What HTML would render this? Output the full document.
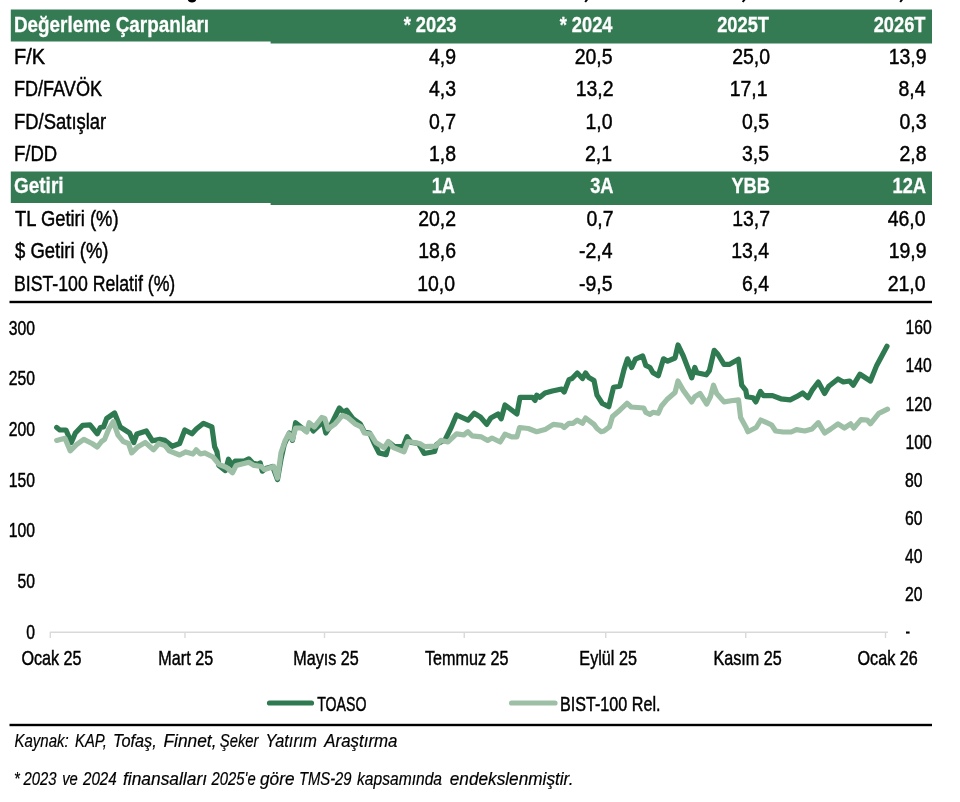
<!DOCTYPE html>
<html lang="tr"><head><meta charset="utf-8"><title>Değerleme Çarpanları</title>
<style>
html,body{margin:0;padding:0;background:#fff;}
body{width:960px;height:802px;overflow:hidden;}
svg{display:block;font-family:"Liberation Sans",sans-serif;will-change:transform;}
text{white-space:pre;}
</style></head><body>
<svg width="960" height="802" viewBox="0 0 960 802">
<rect width="960" height="802" fill="#fff"/>
<path d="M10.8 9.6H932V43.5H270.6V41.4H10.8Z" fill="#347a53"/>
<path d="M10.8 171.4H932V205.1H270.6V203H10.8Z" fill="#347a53"/>
<rect x="9.5" y="300.8" width="922.5" height="2.4" fill="#000"/>
<rect x="9.5" y="723.8" width="922.5" height="2.4" fill="#000"/>
<ellipse cx="192" cy="-0.8" rx="4.2" ry="3.2" fill="#000"/>
<path d="M587.5 -1L585.2 2" stroke="#000" stroke-width="2" fill="none"/>
<path d="M745.0 -1L742.7 2" stroke="#000" stroke-width="2" fill="none"/>
<path d="M902.5 -1L900.2 2" stroke="#000" stroke-width="2" fill="none"/>
<path d="M50 632.2H888" stroke="#d9d9d9" stroke-width="1.6" fill="none"/>
<path d="M50.3 632V638" stroke="#d9d9d9" stroke-width="1.4" fill="none"/>
<path d="M185 632V638" stroke="#d9d9d9" stroke-width="1.4" fill="none"/>
<path d="M324.5 632V638" stroke="#d9d9d9" stroke-width="1.4" fill="none"/>
<path d="M464.25 632V638" stroke="#d9d9d9" stroke-width="1.4" fill="none"/>
<path d="M605.75 632V638" stroke="#d9d9d9" stroke-width="1.4" fill="none"/>
<path d="M745.75 632V638" stroke="#d9d9d9" stroke-width="1.4" fill="none"/>
<path d="M885.5 632V638" stroke="#d9d9d9" stroke-width="1.4" fill="none"/>
<rect x="906" y="631.5" width="3.6" height="2.1" fill="#000"/>
<path d="M56.7 427.5 L59.8 430.0 L66.0 430.0 L71.3 442.5 L75.4 433.0 L82.7 425.4 L90.0 424.8 L97.3 433.8 L100.4 427.5 L103.5 427.0 L106.7 418.5 L114.6 413.0 L120.2 427.0 L129.6 433.0 L133.8 442.5 L136.9 434.0 L146.3 431.0 L152.5 440.8 L159.8 439.4 L165.0 440.4 L172.3 446.3 L179.6 443.5 L184.8 430.0 L192.0 433.8 L196.3 429.0 L203.5 423.3 L211.9 426.9 L214.6 446.7 L217.0 451.9 L218.8 465.4 L225.4 470.6 L228.5 459.2 L232.0 465.4 L235.2 461.2 L244.6 460.8 L248.8 458.8 L253.0 463.3 L258.0 464.4 L260.2 463.0 L262.3 471.2 L265.4 468.5 L272.7 466.5 L277.5 479.6 L281.0 459.2 L284.2 444.6 L289.4 433.0 L292.5 440.4 L295.6 422.7 L300.8 426.9 L306.0 431.0 L310.2 425.8 L313.3 431.0 L319.6 424.8 L322.7 419.6 L325.8 433.0 L330.0 426.9 L334.2 418.5 L339.4 408.0 L343.5 412.3 L346.7 410.2 L352.9 418.5 L360.2 423.8 L364.4 432.0 L369.6 433.0 L373.8 442.5 L379.0 452.9 L386.2 454.6 L389.4 442.5 L394.6 446.7 L403.0 446.7 L407.0 436.7 L411.2 442.5 L418.5 443.5 L424.2 453.5 L434.6 451.5 L436.7 444.2 L445.0 440.0 L451.2 427.5 L456.5 415.0 L468.0 420.2 L474.2 413.3 L480.4 417.0 L486.7 424.4 L490.8 418.0 L498.0 414.0 L501.2 418.8 L505.0 405.0 L516.9 414.0 L520.0 397.3 L532.5 397.3 L535.0 400.4 L536.7 395.2 L539.8 397.3 L545.0 393.0 L552.3 391.0 L561.7 389.0 L564.2 392.0 L569.0 379.6 L572.0 378.5 L577.3 373.0 L582.5 378.5 L585.6 373.0 L588.8 377.5 L594.0 380.6 L597.0 395.2 L602.3 403.5 L608.8 406.7 L613.5 387.3 L619.8 386.2 L624.0 369.6 L627.5 358.8 L631.7 367.5 L635.4 359.2 L642.7 356.0 L645.8 365.4 L650.0 367.5 L653.0 372.7 L658.3 375.8 L663.5 358.8 L667.7 361.2 L675.0 358.0 L678.0 345.0 L683.3 356.0 L691.7 377.9 L694.8 367.5 L696.9 372.7 L706.2 374.8 L709.4 370.6 L714.2 350.4 L717.7 354.0 L724.0 364.4 L729.2 364.4 L738.5 359.2 L741.7 385.2 L745.8 390.4 L746.9 396.7 L753.0 397.7 L755.8 401.9 L760.4 391.5 L763.5 395.6 L772.5 395.6 L780.8 398.8 L790.2 399.8 L796.5 396.7 L802.7 393.0 L808.0 397.7 L812.0 390.4 L818.3 382.0 L824.6 393.5 L828.8 386.2 L838.0 379.0 L843.3 382.0 L849.6 381.0 L853.3 385.2 L860.0 374.2 L870.4 381.0 L876.7 365.4 L887.0 346.2" stroke="#2f7a50" stroke-width="5.2" fill="none" stroke-linejoin="round" stroke-linecap="round"/>
<path d="M56.7 440.4 L65.0 438.3 L70.2 450.8 L76.5 444.6 L83.8 439.4 L92.0 443.5 L97.3 447.0 L101.5 441.5 L104.6 439.4 L108.8 429.0 L113.3 421.7 L118.0 435.2 L123.3 441.5 L128.5 443.5 L131.7 452.9 L138.0 446.7 L145.2 442.5 L153.5 449.8 L158.8 443.5 L165.0 445.6 L169.2 450.8 L179.6 455.0 L185.8 451.9 L193.0 454.0 L196.2 449.8 L200.4 454.0 L204.6 452.9 L213.0 457.0 L219.0 464.4 L226.5 467.5 L232.5 472.7 L236.2 465.4 L248.8 462.3 L254.0 465.4 L261.2 466.5 L264.4 469.6 L273.8 466.5 L277.5 478.0 L281.0 452.9 L285.2 440.4 L288.8 433.8 L292.5 439.4 L295.6 428.0 L301.9 428.0 L306.7 432.0 L309.2 422.7 L314.4 426.9 L321.7 417.5 L324.8 418.5 L328.0 429.0 L335.2 423.8 L342.5 415.4 L347.7 417.5 L355.0 423.8 L361.2 426.9 L364.4 433.0 L370.6 434.0 L375.8 442.5 L384.2 447.7 L388.3 441.5 L393.5 447.7 L404.0 451.9 L408.0 441.5 L419.6 443.5 L424.8 446.7 L435.6 446.2 L440.8 440.4 L448.0 442.0 L456.5 433.8 L463.8 434.8 L468.0 431.7 L472.0 435.8 L481.5 436.9 L487.7 440.4 L492.0 438.0 L500.2 442.0 L505.0 434.2 L511.7 436.9 L516.9 436.9 L519.6 427.5 L528.3 428.5 L536.7 431.7 L545.0 429.6 L553.3 424.4 L561.7 425.4 L564.2 427.5 L569.0 423.3 L573.0 423.3 L577.3 420.2 L582.5 423.3 L585.6 418.0 L594.0 424.4 L597.0 428.5 L601.2 431.7 L604.0 431.0 L609.4 426.9 L612.5 416.5 L619.8 410.2 L627.0 403.3 L631.2 407.0 L643.8 408.0 L645.8 412.3 L650.0 414.4 L653.0 412.3 L658.3 413.3 L661.5 406.0 L666.7 399.8 L675.0 392.5 L678.0 381.0 L683.3 390.4 L691.7 401.9 L694.8 396.7 L700.0 393.5 L706.7 404.0 L710.4 396.7 L713.5 385.2 L716.7 393.5 L724.0 401.9 L731.2 400.8 L738.5 399.8 L740.6 417.5 L745.8 426.9 L747.9 431.7 L756.2 427.5 L760.8 420.0 L766.7 422.7 L771.5 424.8 L775.6 431.0 L783.0 432.0 L791.2 432.0 L796.5 429.6 L804.8 431.0 L812.0 429.0 L818.3 422.7 L824.6 433.0 L830.8 429.0 L838.0 423.8 L844.4 428.0 L850.6 423.8 L853.8 428.0 L861.0 419.6 L867.3 420.0 L870.4 423.8 L878.8 413.3 L887.5 409.2" stroke="#9dbfa6" stroke-width="5.2" fill="none" stroke-linejoin="round" stroke-linecap="round"/>
<path d="M269.5 703H311.5" stroke="#2f7a50" stroke-width="5.2" stroke-linecap="round" fill="none"/>
<path d="M511.6 703H555" stroke="#9dbfa6" stroke-width="5.2" stroke-linecap="round" fill="none"/>
<text x="13.99" y="31.70" textLength="195.02" lengthAdjust="spacingAndGlyphs" style="font-size:22px;font-weight:bold;" fill="#fff" stroke="#fff" stroke-width="0.3">Değerleme Çarpanları</text>
<text x="403.69" y="31.70" textLength="52.81" lengthAdjust="spacingAndGlyphs" style="font-size:22px;font-weight:bold;" fill="#fff" stroke="#fff" stroke-width="0.3">* 2023</text>
<text x="559.69" y="31.70" textLength="52.81" lengthAdjust="spacingAndGlyphs" style="font-size:22px;font-weight:bold;" fill="#fff" stroke="#fff" stroke-width="0.3">* 2024</text>
<text x="717.22" y="31.70" textLength="51.78" lengthAdjust="spacingAndGlyphs" style="font-size:22px;font-weight:bold;" fill="#fff" stroke="#fff" stroke-width="0.3">2025T</text>
<text x="873.72" y="31.70" textLength="51.78" lengthAdjust="spacingAndGlyphs" style="font-size:22px;font-weight:bold;" fill="#fff" stroke="#fff" stroke-width="0.3">2026T</text>
<text x="13.97" y="63.75" textLength="31.03" lengthAdjust="spacingAndGlyphs" style="font-size:22.3px;" fill="#000" stroke="#000" stroke-width="0.45">F/K</text>
<text x="428.97" y="63.75" textLength="27.03" lengthAdjust="spacingAndGlyphs" style="font-size:22.3px;" fill="#000" stroke="#000" stroke-width="0.45">4,9</text>
<text x="574.65" y="63.75" textLength="37.85" lengthAdjust="spacingAndGlyphs" style="font-size:22.3px;" fill="#000" stroke="#000" stroke-width="0.45">20,5</text>
<text x="732.15" y="63.75" textLength="37.85" lengthAdjust="spacingAndGlyphs" style="font-size:22.3px;" fill="#000" stroke="#000" stroke-width="0.45">25,0</text>
<text x="888.65" y="63.75" textLength="37.85" lengthAdjust="spacingAndGlyphs" style="font-size:22.3px;" fill="#000" stroke="#000" stroke-width="0.45">13,9</text>
<text x="13.99" y="96.25" textLength="88.01" lengthAdjust="spacingAndGlyphs" style="font-size:22.3px;" fill="#000" stroke="#000" stroke-width="0.45">FD/FAVÖK</text>
<text x="428.97" y="96.25" textLength="27.03" lengthAdjust="spacingAndGlyphs" style="font-size:22.3px;" fill="#000" stroke="#000" stroke-width="0.45">4,3</text>
<text x="575.65" y="96.25" textLength="37.85" lengthAdjust="spacingAndGlyphs" style="font-size:22.3px;" fill="#000" stroke="#000" stroke-width="0.45">13,2</text>
<text x="729.65" y="96.25" textLength="37.85" lengthAdjust="spacingAndGlyphs" style="font-size:22.3px;" fill="#000" stroke="#000" stroke-width="0.45">17,1</text>
<text x="898.47" y="96.25" textLength="27.03" lengthAdjust="spacingAndGlyphs" style="font-size:22.3px;" fill="#000" stroke="#000" stroke-width="0.45">8,4</text>
<text x="13.99" y="128.75" textLength="92.27" lengthAdjust="spacingAndGlyphs" style="font-size:22.3px;" fill="#000" stroke="#000" stroke-width="0.45">FD/Satışlar</text>
<text x="428.97" y="128.75" textLength="27.03" lengthAdjust="spacingAndGlyphs" style="font-size:22.3px;" fill="#000" stroke="#000" stroke-width="0.45">0,7</text>
<text x="585.47" y="128.75" textLength="27.03" lengthAdjust="spacingAndGlyphs" style="font-size:22.3px;" fill="#000" stroke="#000" stroke-width="0.45">1,0</text>
<text x="741.97" y="128.75" textLength="27.03" lengthAdjust="spacingAndGlyphs" style="font-size:22.3px;" fill="#000" stroke="#000" stroke-width="0.45">0,5</text>
<text x="899.47" y="128.75" textLength="27.03" lengthAdjust="spacingAndGlyphs" style="font-size:22.3px;" fill="#000" stroke="#000" stroke-width="0.45">0,3</text>
<text x="13.95" y="161.25" textLength="43.32" lengthAdjust="spacingAndGlyphs" style="font-size:22.3px;" fill="#000" stroke="#000" stroke-width="0.45">F/DD</text>
<text x="428.97" y="161.25" textLength="27.03" lengthAdjust="spacingAndGlyphs" style="font-size:22.3px;" fill="#000" stroke="#000" stroke-width="0.45">1,8</text>
<text x="584.97" y="161.25" textLength="27.03" lengthAdjust="spacingAndGlyphs" style="font-size:22.3px;" fill="#000" stroke="#000" stroke-width="0.45">2,1</text>
<text x="741.97" y="161.25" textLength="27.03" lengthAdjust="spacingAndGlyphs" style="font-size:22.3px;" fill="#000" stroke="#000" stroke-width="0.45">3,5</text>
<text x="899.47" y="161.25" textLength="27.03" lengthAdjust="spacingAndGlyphs" style="font-size:22.3px;" fill="#000" stroke="#000" stroke-width="0.45">2,8</text>
<text x="15.00" y="225.50" textLength="103.51" lengthAdjust="spacingAndGlyphs" style="font-size:22.3px;" fill="#000" stroke="#000" stroke-width="0.45">TL Getiri (%)</text>
<text x="418.15" y="225.50" textLength="37.85" lengthAdjust="spacingAndGlyphs" style="font-size:22.3px;" fill="#000" stroke="#000" stroke-width="0.45">20,2</text>
<text x="586.47" y="225.50" textLength="27.03" lengthAdjust="spacingAndGlyphs" style="font-size:22.3px;" fill="#000" stroke="#000" stroke-width="0.45">0,7</text>
<text x="732.15" y="225.50" textLength="37.85" lengthAdjust="spacingAndGlyphs" style="font-size:22.3px;" fill="#000" stroke="#000" stroke-width="0.45">13,7</text>
<text x="887.65" y="225.50" textLength="37.85" lengthAdjust="spacingAndGlyphs" style="font-size:22.3px;" fill="#000" stroke="#000" stroke-width="0.45">46,0</text>
<text x="15.00" y="258.00" textLength="93.51" lengthAdjust="spacingAndGlyphs" style="font-size:22.3px;" fill="#000" stroke="#000" stroke-width="0.45">$ Getiri (%)</text>
<text x="418.15" y="258.00" textLength="37.85" lengthAdjust="spacingAndGlyphs" style="font-size:22.3px;" fill="#000" stroke="#000" stroke-width="0.45">18,6</text>
<text x="579.00" y="258.00" textLength="33.50" lengthAdjust="spacingAndGlyphs" style="font-size:22.3px;" fill="#000" stroke="#000" stroke-width="0.45">-2,4</text>
<text x="731.15" y="258.00" textLength="37.85" lengthAdjust="spacingAndGlyphs" style="font-size:22.3px;" fill="#000" stroke="#000" stroke-width="0.45">13,4</text>
<text x="888.65" y="258.00" textLength="37.85" lengthAdjust="spacingAndGlyphs" style="font-size:22.3px;" fill="#000" stroke="#000" stroke-width="0.45">19,9</text>
<text x="13.99" y="290.75" textLength="161.28" lengthAdjust="spacingAndGlyphs" style="font-size:22.3px;" fill="#000" stroke="#000" stroke-width="0.45">BIST-100 Relatif (%)</text>
<text x="417.15" y="290.75" textLength="37.85" lengthAdjust="spacingAndGlyphs" style="font-size:22.3px;" fill="#000" stroke="#000" stroke-width="0.45">10,0</text>
<text x="579.00" y="290.75" textLength="33.50" lengthAdjust="spacingAndGlyphs" style="font-size:22.3px;" fill="#000" stroke="#000" stroke-width="0.45">-9,5</text>
<text x="741.97" y="290.75" textLength="27.03" lengthAdjust="spacingAndGlyphs" style="font-size:22.3px;" fill="#000" stroke="#000" stroke-width="0.45">6,4</text>
<text x="887.65" y="290.75" textLength="37.85" lengthAdjust="spacingAndGlyphs" style="font-size:22.3px;" fill="#000" stroke="#000" stroke-width="0.45">21,0</text>
<text x="13.96" y="193.00" textLength="49.62" lengthAdjust="spacingAndGlyphs" style="font-size:22px;font-weight:bold;" fill="#fff" stroke="#fff" stroke-width="0.3">Getiri</text>
<text x="431.66" y="193.00" textLength="23.34" lengthAdjust="spacingAndGlyphs" style="font-size:22px;font-weight:bold;" fill="#fff" stroke="#fff" stroke-width="0.3">1A</text>
<text x="590.16" y="193.00" textLength="23.34" lengthAdjust="spacingAndGlyphs" style="font-size:22px;font-weight:bold;" fill="#fff" stroke="#fff" stroke-width="0.3">3A</text>
<text x="731.44" y="193.00" textLength="38.56" lengthAdjust="spacingAndGlyphs" style="font-size:22px;font-weight:bold;" fill="#fff" stroke="#fff" stroke-width="0.3">YBB</text>
<text x="892.50" y="193.00" textLength="33.50" lengthAdjust="spacingAndGlyphs" style="font-size:22px;font-weight:bold;" fill="#fff" stroke="#fff" stroke-width="0.3">12A</text>
<text x="8.77" y="334.50" textLength="26.23" lengthAdjust="spacingAndGlyphs" style="font-size:20.3px;" fill="#000" stroke="#000" stroke-width="0.45">300</text>
<text x="8.77" y="385.18" textLength="26.23" lengthAdjust="spacingAndGlyphs" style="font-size:20.3px;" fill="#000" stroke="#000" stroke-width="0.45">250</text>
<text x="8.77" y="435.86" textLength="26.23" lengthAdjust="spacingAndGlyphs" style="font-size:20.3px;" fill="#000" stroke="#000" stroke-width="0.45">200</text>
<text x="8.77" y="486.54" textLength="26.23" lengthAdjust="spacingAndGlyphs" style="font-size:20.3px;" fill="#000" stroke="#000" stroke-width="0.45">150</text>
<text x="8.77" y="537.22" textLength="26.23" lengthAdjust="spacingAndGlyphs" style="font-size:20.3px;" fill="#000" stroke="#000" stroke-width="0.45">100</text>
<text x="17.51" y="587.90" textLength="17.49" lengthAdjust="spacingAndGlyphs" style="font-size:20.3px;" fill="#000" stroke="#000" stroke-width="0.45">50</text>
<text x="26.26" y="638.58" textLength="8.74" lengthAdjust="spacingAndGlyphs" style="font-size:20.3px;" fill="#000" stroke="#000" stroke-width="0.45">0</text>
<text x="905.50" y="334.20" textLength="26.23" lengthAdjust="spacingAndGlyphs" style="font-size:20.3px;" fill="#000" stroke="#000" stroke-width="0.45">160</text>
<text x="905.50" y="372.36" textLength="26.23" lengthAdjust="spacingAndGlyphs" style="font-size:20.3px;" fill="#000" stroke="#000" stroke-width="0.45">140</text>
<text x="905.50" y="410.52" textLength="26.23" lengthAdjust="spacingAndGlyphs" style="font-size:20.3px;" fill="#000" stroke="#000" stroke-width="0.45">120</text>
<text x="905.50" y="448.68" textLength="26.23" lengthAdjust="spacingAndGlyphs" style="font-size:20.3px;" fill="#000" stroke="#000" stroke-width="0.45">100</text>
<text x="905.00" y="486.84" textLength="17.49" lengthAdjust="spacingAndGlyphs" style="font-size:20.3px;" fill="#000" stroke="#000" stroke-width="0.45">80</text>
<text x="905.00" y="525.00" textLength="17.49" lengthAdjust="spacingAndGlyphs" style="font-size:20.3px;" fill="#000" stroke="#000" stroke-width="0.45">60</text>
<text x="905.00" y="563.16" textLength="17.49" lengthAdjust="spacingAndGlyphs" style="font-size:20.3px;" fill="#000" stroke="#000" stroke-width="0.45">40</text>
<text x="905.00" y="601.32" textLength="17.49" lengthAdjust="spacingAndGlyphs" style="font-size:20.3px;" fill="#000" stroke="#000" stroke-width="0.45">20</text>
<text x="21.40" y="664.50" textLength="60.20" lengthAdjust="spacingAndGlyphs" style="font-size:20.3px;" fill="#000" stroke="#000" stroke-width="0.45">Ocak 25</text>
<text x="158.35" y="664.50" textLength="54.81" lengthAdjust="spacingAndGlyphs" style="font-size:20.3px;" fill="#000" stroke="#000" stroke-width="0.45">Mart 25</text>
<text x="293.20" y="664.50" textLength="65.59" lengthAdjust="spacingAndGlyphs" style="font-size:20.3px;" fill="#000" stroke="#000" stroke-width="0.45">Mayıs 25</text>
<text x="424.98" y="664.50" textLength="83.55" lengthAdjust="spacingAndGlyphs" style="font-size:20.3px;" fill="#000" stroke="#000" stroke-width="0.45">Temmuz 25</text>
<text x="579.37" y="664.50" textLength="57.51" lengthAdjust="spacingAndGlyphs" style="font-size:20.3px;" fill="#000" stroke="#000" stroke-width="0.45">Eylül 25</text>
<text x="713.48" y="664.50" textLength="68.28" lengthAdjust="spacingAndGlyphs" style="font-size:20.3px;" fill="#000" stroke="#000" stroke-width="0.45">Kasım 25</text>
<text x="857.53" y="664.50" textLength="60.20" lengthAdjust="spacingAndGlyphs" style="font-size:20.3px;" fill="#000" stroke="#000" stroke-width="0.45">Ocak 26</text>
<text x="317.20" y="711.30" textLength="49.26" lengthAdjust="spacingAndGlyphs" style="font-size:19.6px;" fill="#000" stroke="#000" stroke-width="0.45">TOASO</text>
<text x="559.98" y="711.20" textLength="100.56" lengthAdjust="spacingAndGlyphs" style="font-size:19.6px;" fill="#000" stroke="#000" stroke-width="0.45">BIST-100 Rel.</text>
<text x="14.50" y="746.60" textLength="54.25" lengthAdjust="spacingAndGlyphs" style="font-size:17.5px;font-style:italic;" fill="#000" stroke="#000" stroke-width="0.2">Kaynak:</text>
<text x="75.08" y="746.60" textLength="31.85" lengthAdjust="spacingAndGlyphs" style="font-size:17.5px;font-style:italic;" fill="#000" stroke="#000" stroke-width="0.2">KAP,</text>
<text x="113.00" y="746.60" textLength="43.75" lengthAdjust="spacingAndGlyphs" style="font-size:17.5px;font-style:italic;" fill="#000" stroke="#000" stroke-width="0.2">Tofaş,</text>
<text x="163.50" y="746.60" textLength="53.00" lengthAdjust="spacingAndGlyphs" style="font-size:17.5px;font-style:italic;" fill="#000" stroke="#000" stroke-width="0.2">Finnet,</text>
<text x="219.78" y="746.60" textLength="38.70" lengthAdjust="spacingAndGlyphs" style="font-size:17.5px;font-style:italic;" fill="#000" stroke="#000" stroke-width="0.2">Şeker</text>
<text x="265.50" y="746.60" textLength="51.50" lengthAdjust="spacingAndGlyphs" style="font-size:17.5px;font-style:italic;" fill="#000" stroke="#000" stroke-width="0.2">Yatırım</text>
<text x="324.25" y="746.60" textLength="73.25" lengthAdjust="spacingAndGlyphs" style="font-size:17.5px;font-style:italic;" fill="#000" stroke="#000" stroke-width="0.2">Araştırma</text>
<text x="14.12" y="784.90" textLength="5.77" lengthAdjust="spacingAndGlyphs" style="font-size:17.5px;font-style:italic;" fill="#000" stroke="#000" stroke-width="0.2">*</text>
<text x="23.52" y="784.90" textLength="32.96" lengthAdjust="spacingAndGlyphs" style="font-size:17.5px;font-style:italic;" fill="#000" stroke="#000" stroke-width="0.2">2023</text>
<text x="62.18" y="784.90" textLength="15.65" lengthAdjust="spacingAndGlyphs" style="font-size:17.5px;font-style:italic;" fill="#000" stroke="#000" stroke-width="0.2">ve</text>
<text x="83.00" y="784.90" textLength="33.75" lengthAdjust="spacingAndGlyphs" style="font-size:17.5px;font-style:italic;" fill="#000" stroke="#000" stroke-width="0.2">2024</text>
<text x="122.95" y="784.90" textLength="84.10" lengthAdjust="spacingAndGlyphs" style="font-size:17.5px;font-style:italic;" fill="#000" stroke="#000" stroke-width="0.2">finansalları</text>
<text x="211.61" y="784.90" textLength="44.03" lengthAdjust="spacingAndGlyphs" style="font-size:17.5px;font-style:italic;" fill="#000" stroke="#000" stroke-width="0.2">2025'e</text>
<text x="260.00" y="784.90" textLength="34.50" lengthAdjust="spacingAndGlyphs" style="font-size:17.5px;font-style:italic;" fill="#000" stroke="#000" stroke-width="0.2">göre</text>
<text x="298.91" y="784.90" textLength="52.68" lengthAdjust="spacingAndGlyphs" style="font-size:17.5px;font-style:italic;" fill="#000" stroke="#000" stroke-width="0.2">TMS-29</text>
<text x="357.00" y="784.90" textLength="85.00" lengthAdjust="spacingAndGlyphs" style="font-size:17.5px;font-style:italic;" fill="#000" stroke="#000" stroke-width="0.2">kapsamında</text>
<text x="449.75" y="784.90" textLength="123.75" lengthAdjust="spacingAndGlyphs" style="font-size:17.5px;font-style:italic;" fill="#000" stroke="#000" stroke-width="0.2">endekslenmiştir.</text>
</svg>
</body></html>
